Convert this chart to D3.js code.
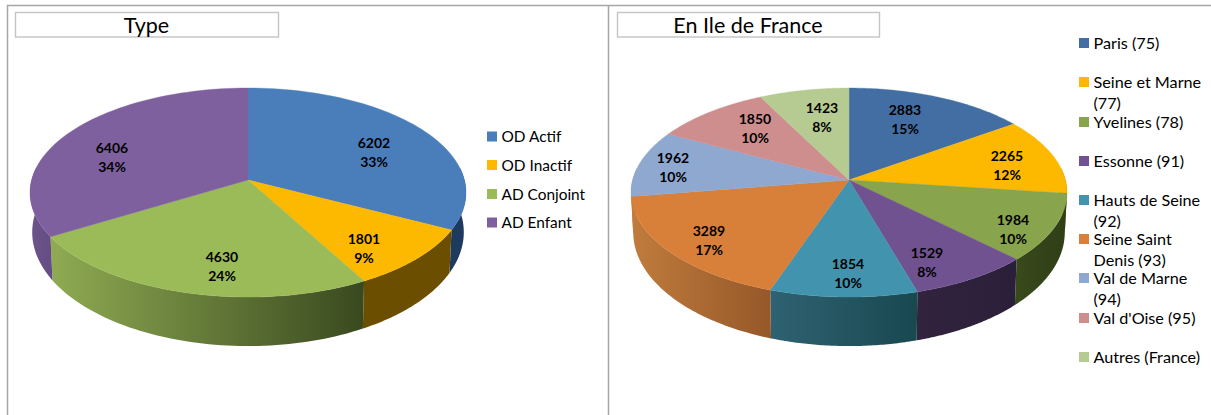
<!DOCTYPE html>
<html><head><meta charset="utf-8">
<script src="https://cdn.jsdelivr.net/npm/d3@7/dist/d3.min.js"></script>
<style>html,body{margin:0;padding:0;background:#fff}svg{display:block}text{font-family:Lato,"Open Sans",sans-serif;fill:#000}</style>
</head><body><svg id="c" width="1211" height="415"></svg>
<script>
const typeCategories = ["OD Actif","OD Inactif","AD Conjoint","AD Enfant"];
const typeValues = [6202,1801,4630,6406];
const typePercents = ["33%","9%","24%","34%"];
const typeColors = ["#4a7ebb","#fdb900","#9bbb59","#7f609f"];
const idfCategories = [["Paris (75)"],["Seine et Marne","(77)"],["Yvelines (78)"],["Essonne (91)"],["Hauts de Seine","(92)"],["Seine Saint","Denis (93)"],["Val de Marne","(94)"],["Val d'Oise (95)"],["Autres (France)"]];
const idfValues = [2883,2265,1984,1529,1854,3289,1962,1850,1423];
const idfPercents = ["15%","12%","10%","8%","10%","17%","10%","10%","8%"];
const idfColors = ["#436ea3","#fdb900","#88a44d","#715290","#4293ad","#d87f3a","#8fa8d0","#ce8e8d","#b6cb92"];
const typeLabelOffsets = [[126,-28],[116,68],[-26,86],[-136,-23]];
const idfLabelOffsets = [[56,-61],[158,-15],[164,49],[78,82],[-1,93],[-140,60],[-176,-13],[-94,-52],[-27,-63]];
const typeSideDark = [["#1f3a5f","#1f3a5f"],["#6b4e00","#6b4e00"],["#8fab52","#39491f"],["#6c548c","#644d82"]];
const idfSideDark = [["#2c4a6e","#2c4a6e"],["#7a5a00","#7a5a00"],["#394a1c","#2f3e17"],["#32233f","#2a1f38"],["#2f6272","#184850"],["#c07c3c","#96582a"],["#c07c3c","#c07c3c"],["#8e5c5c","#8e5c5c"],["#7c8c60","#7c8c60"]];

const svg = d3.select("#c");
const frame = "#a6a6a6";
svg.append("path").attr("d","M7.5 415V5.5H1211M608.5 5.5V415").attr("fill","none").attr("stroke",frame).attr("stroke-width",1.5);

function drawPie(o){
  const g = svg.append("g");
  const k=.12, Rx=216.4, Ry=103, sB=1.09, sX=.99, dropB=38.5;
  const proj=(a,r,bottom)=>{
    const x=Math.sin(a)*r, y=-Math.cos(a)*r, w=1-k*y;
    return bottom
      ? [o.cx+sX*Rx*x/w, o.cy+dropB+sB*Ry*y/w]
      : [o.cx+Rx*x/w, o.cy+Ry*y/w];
  };
  const arcs=d3.pie().sort(null).startAngle(0).endAngle(2*Math.PI)(o.values);
  const line=d3.line();
  const sample=(a0,a1,bottom)=>d3.range(0,61).map(i=>proj(a0+(a1-a0)*i/60,1,bottom));
  const defs=svg.append("defs");
  const HALF=[Math.PI/2-.12, 3*Math.PI/2+.12];
  arcs.forEach((d,i)=>{
    const a0=Math.max(d.startAngle,HALF[0]), a1=Math.min(d.endAngle,HALF[1]);
    if(a1<=a0) return;
    const top=sample(a0,a1,false), bot=sample(a0,a1,true).reverse();
    const ext=d3.extent(top.concat(bot),p=>p[0]);
    const id=o.id+"s"+i;
    const gr=defs.append("linearGradient").attr("id",id).attr("gradientUnits","userSpaceOnUse")
      .attr("x1",ext[0]).attr("x2",ext[1]).attr("y1",0).attr("y2",0);
    const pair=o.sides[i];
    gr.append("stop").attr("offset",0).attr("stop-color",pair[0]);
    gr.append("stop").attr("offset",1).attr("stop-color",pair[1]);
    g.append("path").attr("d",line(top.concat(bot))+"Z").attr("fill",`url(#${id})`);
  });
  arcs.forEach((d,i)=>{
    const pts=[[o.cx,o.cy]].concat(sample(d.startAngle,d.endAngle,false));
    g.append("path").attr("d",line(pts)+"Z").attr("fill",o.colors[i]).attr("stroke",o.colors[i]).attr("stroke-width",.4);
  });
  arcs.forEach((d,i)=>{
    const [dx,dy]=o.labelOffsets[i];
    const t=g.append("text").attr("text-anchor","middle").attr("font-size",14).attr("font-weight",700);
    t.append("tspan").attr("x",o.cx+dx).attr("y",o.cy+dy-4).text(d.value);
    t.append("tspan").attr("x",o.cx+dx).attr("y",o.cy+dy+15).text(o.percents[i]);
  });
  svg.append("rect").attr("x",o.titleX+.5).attr("y",12.5).attr("width",o.titleW).attr("height",24.5).attr("fill","#fff").attr("stroke","#c4c4c4").attr("stroke-width",1.4);
  svg.append("text").attr("x",o.titleX+o.titleW/2).attr("y",33).attr("text-anchor","middle").attr("font-size",21.5).text(o.title);
  const lg=svg.append("g");
  o.legendY.forEach((y,i)=>{
    lg.append("rect").attr("x",o.legendX).attr("y",y-5).attr("width",10).attr("height",10).attr("fill",o.colors[i]);
    const t=lg.append("text").attr("font-size",o.legendFont);
    [].concat(o.categories[i]).forEach((s,j)=>t.append("tspan").attr("x",o.legendX+14.5).attr("y",y+5.5+j*21).text(s));
  });
}

drawPie({id:"a",cx:248,cy:180,values:typeValues,colors:typeColors,sides:typeSideDark,percents:typePercents,labelOffsets:typeLabelOffsets,
  categories:typeCategories,title:"Type",titleX:15,titleW:263,legendX:487,legendFont:15.4,legendY:[136.5,165,194,222.5]});
drawPie({id:"b",cx:849,cy:180,values:idfValues,colors:idfColors,sides:idfSideDark,percents:idfPercents,labelOffsets:idfLabelOffsets,
  categories:idfCategories,title:"En Ile de France",titleX:617,titleW:262,legendX:1079,legendFont:16.2,legendY:[43,82,122,161,200,239,278,318,357]});
</script></body></html>
